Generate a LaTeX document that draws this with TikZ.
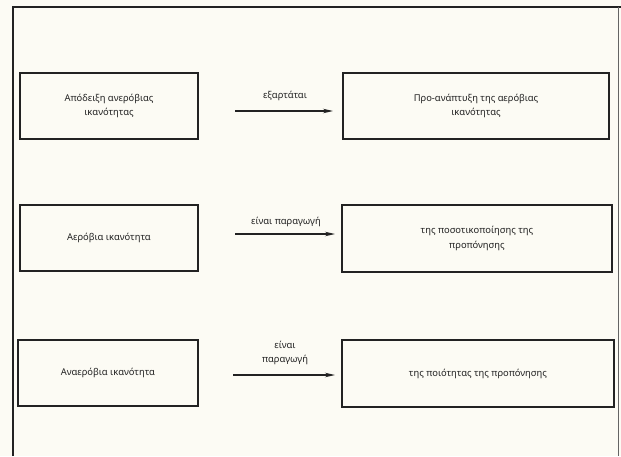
\documentclass[tikz,border=0pt]{standalone}
\usepackage{fontspec}
\setmainfont{Noto Sans}
\usetikzlibrary{arrows.meta}
\definecolor{paper}{HTML}{FCFBF4}
\definecolor{ink}{HTML}{222222}
\begin{document}
\begin{tikzpicture}[x=1pt,y=-1pt,
  box/.style={draw=ink,line width=1.3pt,inner sep=0pt,align=center,font=\fontsize{9.4}{14.5}\selectfont,text=ink},
  lbl/.style={inner sep=0pt,align=center,font=\fontsize{9.4}{14.5}\selectfont,text=ink},
  conn/.style={draw=ink,line width=1.3pt,-{Stealth[length=10pt,width=4.5pt]}}]
\fill[paper] (0,0) rectangle (621,456);
\useasboundingbox (0,0) rectangle (621,456);
% outer frame (open at the bottom)
\draw[ink,line width=2pt] (13,456) -- (13,7) -- (621,7);
\draw[ink!70,line width=1pt] (618.5,7) -- (618.5,456);
% row 1
\node[box,minimum width=178pt,minimum height=66pt] (a1) at (109,106) {Απόδειξη ανερόβιας\\ικανότητας};
\node[box,minimum width=266pt,minimum height=66pt] (b1) at (476,106) {Προ-ανάπτυξη της αερόβιας\\ικανότητας};
\coordinate (s1) at (235,111);
\coordinate (e1) at (333,111);
\draw[conn] (s1) -- (e1);
\node[lbl] (l1) at (285,96) {εξαρτάται};
% row 2
\node[box,minimum width=178pt,minimum height=66pt] (a2) at (109,238) {Αερόβια ικανότητα};
\node[box,minimum width=270pt,minimum height=67pt] (b2) at (477,238.5) {της ποσοτικοποίησης της\\προπόνησης};
\coordinate (s2) at (235,234);
\coordinate (e2) at (335,234);
\draw[conn] (s2) -- (e2);
\node[lbl] (l2) at (286,222) {είναι παραγωγή};
% row 3
\node[box,minimum width=180pt,minimum height=66pt] (a3) at (108,373) {Αναερόβια ικανότητα};
\node[box,minimum width=272pt,minimum height=67pt] (b3) at (478,373.5) {της ποιότητας της προπόνησης};
\coordinate (s3) at (233,375);
\coordinate (e3) at (335,375);
\draw[conn] (s3) -- (e3);
\node[lbl] (l3) at (285,353) {είναι\\παραγωγή};
\end{tikzpicture}
\end{document}
